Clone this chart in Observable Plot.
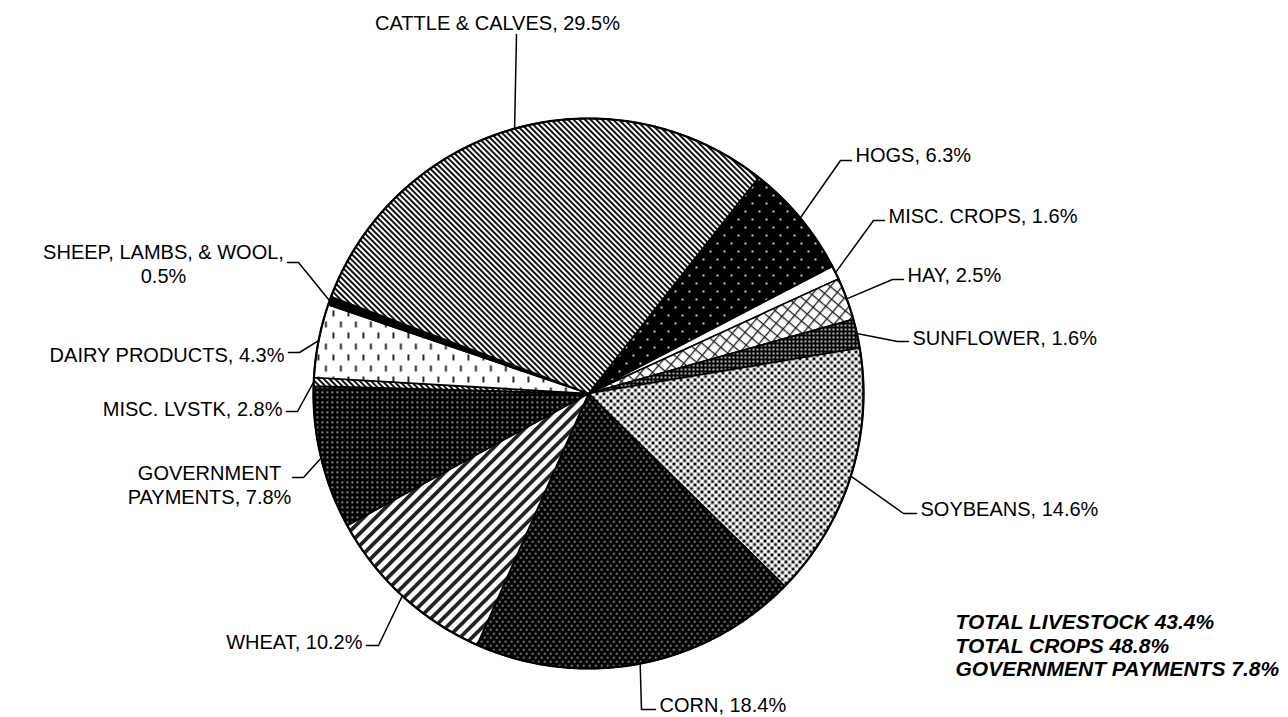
<!DOCTYPE html>
<html>
<head>
<meta charset="utf-8">
<script src="https://cdn.jsdelivr.net/npm/d3@7"></script>
<script src="https://cdn.jsdelivr.net/npm/@observablehq/plot@0.6"></script>
<style>
  html, body { margin: 0; padding: 0; background: #fff; }
  #chart { width: 1288px; height: 717px; }
</style>
</head>
<body>
<div id="chart"></div>
<script>
// ---- data ----
const categories = ["HOGS", "MISC. CROPS", "HAY", "SUNFLOWER", "SOYBEANS", "CORN", "WHEAT",
  "GOVERNMENT PAYMENTS", "MISC. LVSTK", "DAIRY PRODUCTS", "SHEEP, LAMBS, & WOOL", "CATTLE & CALVES"];
// percentages printed in the labels
const labelPct = [6.3, 1.6, 2.5, 1.6, 14.6, 18.4, 10.2, 7.8, 2.8, 4.3, 0.5, 29.5];
// slice sizes as drawn in the picture (percent of the circle)
const sliceShare = [6.75, 0.8, 2.5, 1.7, 15.0, 19.3, 10.4, 8.4, 0.5, 4.3, 0.5, 29.9];
const patternIds = ["p-hogs", "p-white", "p-hay", "p-sunflower", "p-soy", "p-corn", "p-wheat",
  "p-gov", "p-misclv", "p-dairy", "p-black", "p-cattle"];
const totalsLines = ["TOTAL LIVESTOCK 43.4%", "TOTAL CROPS 48.8%", "GOVERNMENT PAYMENTS 7.8%"];

// ---- layout ----
const W = 1288, H = 717;
const CX = 588, CY = 393, R = 275;
const startDeg = 38.2;
// label text positions and leader elbows (pixels)
const labelLayout = [
  {anchor: "start",  tx: 855, ty: 154, elbow: [840, 160], end: [851, 160]},
  {anchor: "start",  tx: 888, ty: 215, elbow: [873, 220], end: [884, 220]},
  {anchor: "start",  tx: 907, ty: 274, elbow: [892, 279], end: [903, 279]},
  {anchor: "start",  tx: 912, ty: 337, elbow: [897, 341], end: [908, 341]},
  {anchor: "start",  tx: 920, ty: 508, elbow: [903, 513], end: [916, 513]},
  {anchor: "start",  tx: 659, ty: 704, elbow: [641, 709], end: [655, 709]},
  {anchor: "end",    tx: 362, ty: 641, elbow: [378, 645], end: [366, 645]},
  {anchor: "middle", tx: 209, ty: 484, elbow: [303, 477], end: [292, 477], lines: ["GOVERNMENT", "PAYMENTS, 7.8%"]},
  {anchor: "end",    tx: 282, ty: 408, elbow: [297, 411], end: [286, 411]},
  {anchor: "end",    tx: 284, ty: 354, elbow: [299, 352], end: [288, 352]},
  {anchor: "middle", tx: 163, ty: 263, elbow: [298, 262], end: [287, 262], lines: ["SHEEP, LAMBS, & WOOL,", "0.5%"]},
  {anchor: "middle", tx: 497, ty: 22,  elbow: [516, 34],  end: [516, 34]}
];

// ---- geometry through d3.pie ----
const rad = d => d * Math.PI / 180;
const pie = d3.pie().sort(null).value(d => d)
  .startAngle(rad(startDeg)).endAngle(rad(startDeg) + 2 * Math.PI);
const arcs = pie(sliceShare);
const pt = a => [CX + R * Math.sin(a), CY - R * Math.cos(a)];

const slicePts = arcs.map((a, i) => {
  const pts = [[CX, CY]];
  const n = Math.max(2, Math.ceil((a.endAngle - a.startAngle) / rad(0.5)));
  for (let k = 0; k <= n; k++) pts.push(pt(a.startAngle + (a.endAngle - a.startAngle) * k / n));
  pts.push([CX, CY]);
  return pts.map(([x, y]) => ({x, y, i}));
});
const circlePts = d3.range(0, 721).map(k => { const [x, y] = pt(rad(k / 2)); return {x, y}; });

const leaderPts = arcs.flatMap((a, i) => {
  const L = labelLayout[i];
  const [mx, my] = pt((a.startAngle + a.endAngle) / 2);
  return [{x: mx, y: my, i}, {x: L.elbow[0], y: L.elbow[1], i}, {x: L.end[0], y: L.end[1], i}];
});

const labels = categories.map((c, i) => {
  const L = labelLayout[i];
  const text = L.lines ? L.lines.join("\n") : `${c}, ${labelPct[i]}%`;
  return {text, x: L.tx, y: L.ty, anchor: L.anchor};
});
const totals = totalsLines.map((t, k) => ({text: t, x: 955, y: 622 + 23.5 * k}));

const font = "'Liberation Sans', Arial, sans-serif";
const textMark = anchor => Plot.text(labels.filter(d => d.anchor === anchor), {
  x: "x", y: "y", text: "text", textAnchor: anchor, fontSize: 20, lineHeight: 1.2,
  fill: "black", fontFamily: font
});

const plot = Plot.plot({
  width: W, height: H, margin: 0,
  x: {domain: [0, W], axis: null},
  y: {domain: [H, 0], axis: null},
  style: {background: "white", fontFamily: font},
  marks: [
    ...slicePts.map((pts, i) => Plot.line(pts, {
      x: "x", y: "y", fill: `url(#${patternIds[i]})`, stroke: "black", strokeWidth: 1.6,
      strokeLinejoin: "round", curve: "linear"
    })),
    Plot.line(circlePts, {x: "x", y: "y", stroke: "black", strokeWidth: 2.2}),
    Plot.line(leaderPts, {x: "x", y: "y", z: "i", stroke: "black", strokeWidth: 1.5, curve: "linear"}),
    textMark("start"), textMark("end"), textMark("middle"),
    Plot.text(totals, {x: "x", y: "y", text: "text", textAnchor: "start", fontSize: 21,
      fontWeight: "bold", fontStyle: "italic", fill: "black", fontFamily: font})
  ]
});

const defs = `
<defs>
  <pattern id="p-white" width="4" height="4" patternUnits="userSpaceOnUse"><rect width="4" height="4" fill="#fff"/></pattern>
  <pattern id="p-black" width="4" height="4" patternUnits="userSpaceOnUse"><rect width="4" height="4" fill="#000"/></pattern>
  <pattern id="p-cattle" width="4" height="4" patternUnits="userSpaceOnUse" patternTransform="rotate(-45)">
    <rect width="4" height="4" fill="#fff"/><rect width="2" height="4" fill="#111"/></pattern>
  <pattern id="p-misclv" width="4" height="4" patternUnits="userSpaceOnUse" patternTransform="rotate(-45)">
    <rect width="4" height="4" fill="#fff"/><rect width="2" height="4" fill="#111"/></pattern>
  <pattern id="p-hogs" width="14" height="16" patternUnits="userSpaceOnUse">
    <rect width="14" height="16" fill="#000"/>
    <rect x="2" y="2" width="2" height="2" fill="#ccc"/><rect x="9" y="10" width="2" height="2" fill="#ccc"/></pattern>
  <pattern id="p-hay" width="9" height="9" patternUnits="userSpaceOnUse" patternTransform="rotate(40)">
    <rect width="9" height="9" fill="#fff"/>
    <rect width="9" height="1.3" fill="#222"/><rect width="1.3" height="9" fill="#222"/></pattern>
  <pattern id="p-sunflower" width="4" height="4" patternUnits="userSpaceOnUse">
    <rect width="4" height="4" fill="#000"/><rect width="2" height="2" fill="#bbb"/></pattern>
  <pattern id="p-soy" width="7" height="7" patternUnits="userSpaceOnUse">
    <rect width="7" height="7" fill="#fff"/>
    <rect x="0" y="0" width="3" height="3" fill="#111"/><rect x="3.5" y="3.5" width="3" height="3" fill="#111"/></pattern>
  <pattern id="p-corn" width="6" height="8" patternUnits="userSpaceOnUse">
    <rect width="6" height="8" fill="#000"/>
    <rect x="0.5" y="0.5" width="1.6" height="1.6" fill="#ccc"/><rect x="3.5" y="4.5" width="1.6" height="1.6" fill="#ccc"/></pattern>
  <pattern id="p-gov" width="5" height="5" patternUnits="userSpaceOnUse">
    <rect width="5" height="5" fill="#000"/><rect x="1" y="1" width="1.6" height="1.6" fill="#ccc"/></pattern>
  <pattern id="p-wheat" width="8.5" height="8.5" patternUnits="userSpaceOnUse" patternTransform="rotate(45)">
    <rect width="8.5" height="8.5" fill="#fff"/><rect width="3.8" height="8.5" fill="#222"/></pattern>
  <pattern id="p-dairy" width="15" height="22" patternUnits="userSpaceOnUse">
    <rect width="15" height="22" fill="#fff"/>
    <rect x="2" y="2" width="1.8" height="6" fill="#111"/><rect x="9.5" y="13" width="1.8" height="6" fill="#111"/></pattern>
</defs>`;
plot.insertAdjacentHTML("afterbegin", defs);
document.getElementById("chart").appendChild(plot);
</script>
</body>
</html>
